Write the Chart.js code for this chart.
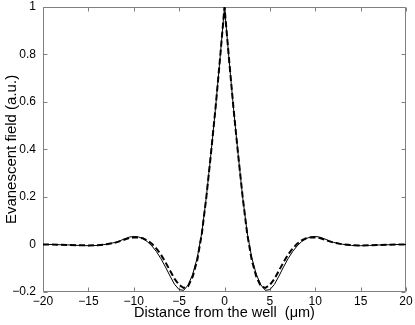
<!DOCTYPE html>
<html>
<head>
<meta charset="utf-8">
<script src="https://cdn.jsdelivr.net/npm/chart.js@4.4.0/dist/chart.umd.min.js"></script>
<style>
  html, body { margin: 0; padding: 0; background: #fff; }
  #wrap { width: 415px; height: 325px; }
</style>
</head>
<body>
<div id="wrap"><canvas id="fieldChart" width="415" height="325"></canvas></div>
<script>
// distance from the well (um)
const xs = [
  -20, -19, -18, -17, -16, -15, -14, -13, -12, -11.5, -11, -10.5, -10, -9.5, -9, -8.5, -8,
  -7.5, -7, -6.5, -6, -5.5, -5, -4.5, -4, -3.5, -3, -2.5, -2, -1.5, -1, -0.5,
  0,
  0.5, 1, 1.5, 2, 2.5, 3, 3.5, 4, 4.5, 5, 5.5, 6, 6.5, 7, 7.5,
  8, 8.5, 9, 9.5, 10, 10.5, 11, 11.5, 12, 13, 14, 15, 16, 17, 18, 19, 20
];
// solid curve
const solidField = [
  0, 0, -0.001, -0.002, -0.004, -0.005, -0.004, 0.001, 0.009, 0.016, 0.024, 0.031, 0.034, 0.032, 0.025, 0.012, -0.006,
  -0.03, -0.06, -0.095, -0.133, -0.168, -0.19, -0.193, -0.17, -0.125, -0.055, 0.05, 0.2, 0.38, 0.57, 0.78,
  1,
  0.78, 0.57, 0.38, 0.2, 0.05, -0.055, -0.125, -0.17, -0.193, -0.19, -0.168, -0.133, -0.095, -0.06, -0.03,
  -0.006, 0.012, 0.025, 0.032, 0.034, 0.031, 0.024, 0.016, 0.009, 0.001, -0.004, -0.005, -0.004, -0.002, -0.001, 0, 0
];
// dashed curve
const dashedField = [
  0, 0, -0.001, -0.002, -0.003, -0.004, -0.003, 0.001, 0.008, 0.014, 0.021, 0.027, 0.03, 0.03, 0.026, 0.017, 0.003,
  -0.017, -0.043, -0.075, -0.11, -0.145, -0.17, -0.183, -0.175, -0.135, -0.065, 0.045, 0.2, 0.38, 0.57, 0.78,
  1,
  0.78, 0.57, 0.38, 0.2, 0.045, -0.065, -0.135, -0.175, -0.183, -0.17, -0.145, -0.11, -0.075, -0.043, -0.017,
  0.003, 0.017, 0.026, 0.03, 0.03, 0.027, 0.021, 0.014, 0.008, 0.001, -0.003, -0.004, -0.003, -0.002, -0.001, 0, 0
];
const xTicks = [-20, -15, -10, -5, 0, 5, 10, 15, 20];
const yTicks = [-0.2, 0, 0.2, 0.4, 0.6, 0.8, 1];

const FONT = "'Liberation Sans', Arial, Helvetica, sans-serif";
const BOX = "#808080";

function fmt(v) {
  const s = String(Math.round(v * 10) / 10);
  return s.replace("-", "\u2212");
}

// matlab-style box with inward ticks on all four sides
const boxPlugin = {
  id: "box",
  beforeDatasetsDraw(chart) {
    const { ctx, chartArea: a, scales } = chart;
    const l = Math.round(a.left) + 0.5, r = Math.round(a.right) - 0.5;
    const t = Math.round(a.top) + 0.5, b = Math.round(a.bottom) - 0.5;
    ctx.save();
    ctx.strokeStyle = BOX;
    ctx.lineWidth = 1;
    ctx.beginPath();
    ctx.rect(l, t, r - l, b - t);
    xTicks.forEach((v) => {
      const px = Math.round(scales.x.getPixelForValue(v)) + 0.5;
      ctx.moveTo(px, b); ctx.lineTo(px, b - 4);
      ctx.moveTo(px, t); ctx.lineTo(px, t + 4);
    });
    yTicks.forEach((v) => {
      const py = Math.round(scales.y.getPixelForValue(v)) + 0.5;
      ctx.moveTo(l, py); ctx.lineTo(l + 4, py);
      ctx.moveTo(r, py); ctx.lineTo(r - 4, py);
    });
    ctx.stroke();
    ctx.restore();
  }
};

const ctx = document.getElementById("fieldChart").getContext("2d");
new Chart(ctx, {
  type: "line",
  data: {
    datasets: [
      {
        data: xs.map((x, i) => ({ x: x, y: solidField[i] })),
        borderColor: "#000",
        borderWidth: 1,
        pointRadius: 0,
        tension: 0,
      },
      {
        data: xs.map((x, i) => ({ x: x, y: dashedField[i] })),
        borderColor: "#000",
        borderWidth: 2,
        borderDash: [6, 3],
        pointRadius: 0,
        tension: 0,
      },
    ],
  },
  options: {
    responsive: false,
    animation: false,
    events: [],
    layout: { padding: { top: 7, right: 9, left: 0, bottom: 0 } },
    plugins: { legend: { display: false }, tooltip: { enabled: false } },
    scales: {
      x: {
        type: "linear",
        min: -20,
        max: 20,
        afterBuildTicks: (s) => { s.ticks = xTicks.map((v) => ({ value: v })); },
        afterFit: (s) => { s.height = 33; s.paddingLeft = 0; s.paddingRight = 0; },
        grid: { display: false, drawTicks: false },
        border: { display: false },
        ticks: {
          color: "#000",
          padding: 2,
          maxRotation: 0,
          autoSkip: false,
          font: { family: FONT, size: 12 },
          callback: (v) => fmt(v),
        },
        title: {
          display: true,
          text: "Distance from the well  (\u03bcm)",
          color: "#000",
          font: { family: FONT, size: 14.5 },
          padding: { top: 0, bottom: 3 },
        },
      },
      y: {
        min: -0.2,
        max: 1,
        afterBuildTicks: (s) => { s.ticks = yTicks.map((v) => ({ value: v })); },
        afterFit: (s) => { s.width = 43; s.paddingTop = 0; s.paddingBottom = 0; },
        grid: { display: false, drawTicks: false },
        border: { display: false },
        ticks: {
          color: "#000",
          padding: 7,
          autoSkip: false,
          font: { family: FONT, size: 12 },
          callback: (v) => fmt(v),
        },
        title: {
          display: true,
          text: "Evanescent field (a.u.)",
          color: "#000",
          font: { family: FONT, size: 15 },
          padding: { top: 3, bottom: 0 },
        },
      },
    },
  },
  plugins: [boxPlugin],
});
</script>
</body>
</html>
